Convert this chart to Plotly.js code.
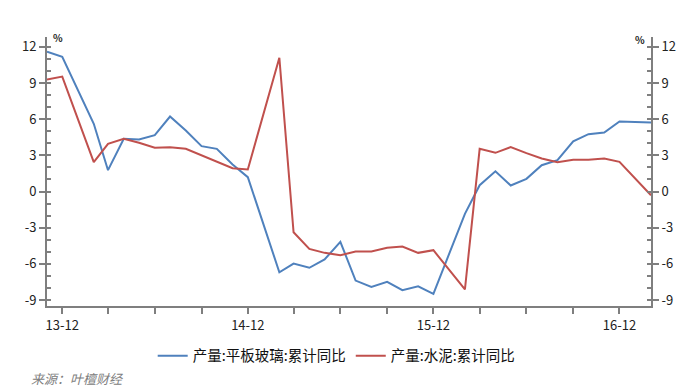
<!DOCTYPE html>
<html>
<head>
<meta charset="utf-8">
<script src="https://cdn.plot.ly/plotly-3.0.1.min.js"></script>
<style>
html,body{margin:0;padding:0;background:#fff;}
#chart{width:700px;height:391px;}
</style>
</head>
<body>
<div id="chart"></div>
<script>
// Months (January is not reported; Jan-Feb combined into Feb)
const months = [
  "2013-11-01","2013-12-01",
  "2014-02-01","2014-03-01","2014-04-01","2014-05-01","2014-06-01","2014-07-01","2014-08-01","2014-09-01","2014-10-01","2014-11-01","2014-12-01",
  "2015-02-01","2015-03-01","2015-04-01","2015-05-01","2015-06-01","2015-07-01","2015-08-01","2015-09-01","2015-10-01","2015-11-01","2015-12-01",
  "2016-02-01","2016-03-01","2016-04-01","2016-05-01","2016-06-01","2016-07-01","2016-08-01","2016-09-01","2016-10-01","2016-11-01","2016-12-01",
  "2017-02-01"
];
// 产量:平板玻璃:累计同比 (%)
const glassYoY = [
  11.59, 11.18,
  5.62, 1.77, 4.37, 4.32, 4.67, 6.22, 5.06, 3.76, 3.54, 2.24, 1.19,
  -6.70, -5.98, -6.33, -5.64, -4.17, -7.39, -7.91, -7.49, -8.19, -7.86, -8.49,
  -1.85, 0.52, 1.68, 0.50, 1.05, 2.18, 2.60, 4.17, 4.76, 4.90, 5.81,
  5.73
];
// 产量:水泥:累计同比 (%)
const cementYoY = [
  9.29, 9.54,
  2.43, 3.96, 4.37, 4.04, 3.63, 3.68, 3.54, 2.99, 2.46, 1.93, 1.83,
  11.10, -3.38, -4.76, -5.09, -5.29, -4.98, -4.98, -4.67, -4.56, -5.09, -4.87,
  -8.13, 3.54, 3.21, 3.68, 3.18, 2.74, 2.43, 2.63, 2.63, 2.74, 2.46,
  -0.31
];
const seriesNames = ["产量:平板玻璃:累计同比", "产量:水泥:累计同比"];
const yTickVals = [-9, -6, -3, 0, 3, 6, 9, 12];
const yTickText = ["-9", "-6", "-3", "0", "3", "6", "9", "12"];
const sourceText = "来源：叶檀财经";

const FONT = "'Noto Sans CJK SC', 'Noto Sans', sans-serif";
const AXIS_COLOR = "#7f7f7f";
const yRange = [-9.5, 12.82];

const yAxisCommon = {
  range: yRange,
  tickmode: "array",
  tickvals: yTickVals,
  ticktext: yTickText,
  ticks: "outside",
  ticklen: 6,
  tickwidth: 2,
  tickcolor: AXIS_COLOR,
  showline: true,
  linecolor: AXIS_COLOR,
  linewidth: 2,
  showgrid: false,
  zeroline: false,
  tickfont: {family: FONT, size: 13, color: "#222"},
  minor: {ticks: "inside", dtick: 1, tick0: 0, ticklen: 4, tickwidth: 2, tickcolor: AXIS_COLOR, showgrid: false}
};

const traces = [
  {
    x: months, y: glassYoY, name: seriesNames[0], type: "scatter", mode: "lines",
    line: {color: "#4f81bd", width: 2}, xaxis: "x", yaxis: "y"
  },
  {
    x: months, y: cementYoY, name: seriesNames[1], type: "scatter", mode: "lines",
    line: {color: "#c0504d", width: 2}, xaxis: "x", yaxis: "y2"
  }
];

const layout = {
  width: 700, height: 391,
  margin: {l: 47, r: 49, t: 37, b: 85, pad: 0},
  paper_bgcolor: "#fff", plot_bgcolor: "#fff",
  showlegend: true,
  legend: {
    orientation: "h", x: 0.175, xanchor: "left", y: -0.185, yanchor: "middle",
    font: {family: FONT, size: 14.5, color: "#111"}, bgcolor: "rgba(0,0,0,0)"
  },
  xaxis: {
    type: "date",
    range: ["2013-11-01", "2017-02-01"],
    tickmode: "linear", tick0: "2013-12-01", dtick: "M12", tickformat: "%y-%m",
    ticks: "outside", ticklen: 6, tickwidth: 2, tickcolor: AXIS_COLOR,
    showline: true, linecolor: AXIS_COLOR, linewidth: 2,
    showgrid: false, zeroline: false,
    tickfont: {family: FONT, size: 13, color: "#222"},
    minor: {ticks: "outside", tick0: "2013-12-01", dtick: "M3", ticklen: 6, tickwidth: 2, tickcolor: AXIS_COLOR, showgrid: false}
  },
  yaxis: Object.assign({}, yAxisCommon, {side: "left"}),
  yaxis2: Object.assign({}, yAxisCommon, {side: "right", overlaying: "y"}),
  annotations: [
    {xref: "paper", yref: "paper", x: 0.006, y: 0.997, xanchor: "left", yanchor: "middle",
     text: "<b>%</b>", showarrow: false, font: {family: FONT, size: 10, color: "#222"}},
    {xref: "paper", yref: "paper", x: 0.994, y: 0.99, xanchor: "right", yanchor: "middle",
     text: "<b>%</b>", showarrow: false, font: {family: FONT, size: 10, color: "#222"}},
    {xref: "paper", yref: "paper", x: -0.029, y: -0.268, xanchor: "left", yanchor: "middle",
     text: "<i>" + sourceText + "</i>", showarrow: false, font: {family: FONT, size: 13, color: "#808080"}}
  ]
};

Plotly.newPlot("chart", traces, layout, {displayModeBar: false, staticPlot: true});
</script>
</body>
</html>
